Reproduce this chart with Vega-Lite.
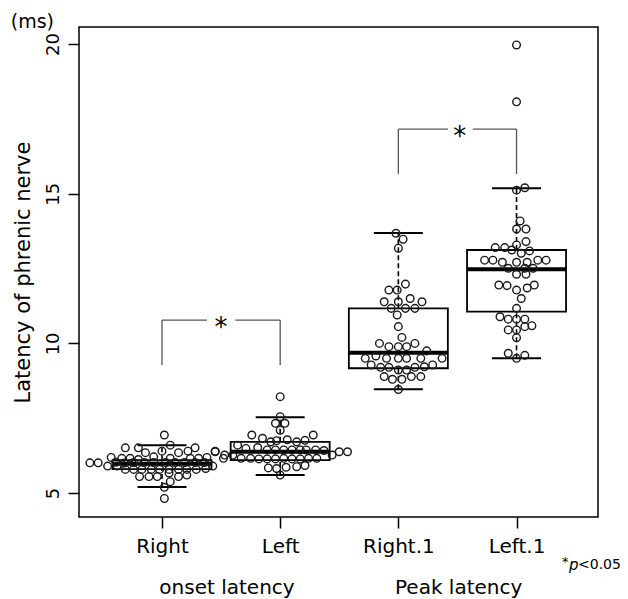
{
  "$schema": "https://vega.github.io/schema/vega-lite/v6.json",
  "width": 519,
  "height": 490,
  "autosize": {"type": "none"},
  "padding": {"left": 79, "top": 27, "right": 30, "bottom": 82},
  "background": "white",
  "config": {
    "view": {"stroke": "black", "strokeWidth": 1.5},
    "font": "DejaVu Sans",
    "axis": {"grid": false, "domain": false, "tickColor": "black", "tickWidth": 1.5, "tickSize": 11, "labelColor": "black", "titleColor": "black", "labelFont": "DejaVu Sans", "titleFont": "DejaVu Sans"}
  },
  "datasets": {
    "pts": [
      {"x": 1.02, "y": 6.94}, {"x": 0.69, "y": 6.51}, {"x": 0.80, "y": 6.51}, {"x": 1.07, "y": 6.60}, {"x": 1.00, "y": 6.40},
      {"x": 1.14, "y": 6.35}, {"x": 1.22, "y": 6.40}, {"x": 1.28, "y": 6.51}, {"x": 1.45, "y": 6.40}, {"x": 1.52, "y": 6.16},
      {"x": 0.86, "y": 6.35}, {"x": 0.93, "y": 6.21}, {"x": 0.57, "y": 6.19}, {"x": 0.66, "y": 6.16}, {"x": 0.73, "y": 6.16},
      {"x": 0.80, "y": 6.12}, {"x": 1.07, "y": 6.16}, {"x": 1.24, "y": 6.16}, {"x": 1.31, "y": 6.16}, {"x": 1.38, "y": 6.19},
      {"x": 0.39, "y": 6.01}, {"x": 0.46, "y": 6.01}, {"x": 0.54, "y": 5.90},
      {"x": 0.61, "y": 6.03}, {"x": 0.68, "y": 6.00}, {"x": 0.76, "y": 6.02}, {"x": 0.85, "y": 6.02}, {"x": 0.93, "y": 6.02},
      {"x": 1.03, "y": 6.02}, {"x": 1.11, "y": 6.02}, {"x": 1.19, "y": 6.02}, {"x": 1.28, "y": 6.02}, {"x": 1.36, "y": 6.02},
      {"x": 0.62, "y": 5.90}, {"x": 0.69, "y": 5.79}, {"x": 0.76, "y": 5.79}, {"x": 0.83, "y": 5.79}, {"x": 0.91, "y": 5.79},
      {"x": 0.98, "y": 5.79}, {"x": 1.06, "y": 5.79}, {"x": 1.14, "y": 5.79}, {"x": 1.21, "y": 5.79}, {"x": 1.29, "y": 5.79},
      {"x": 1.37, "y": 5.82}, {"x": 1.43, "y": 5.90},
      {"x": 0.81, "y": 5.55}, {"x": 0.89, "y": 5.55}, {"x": 0.96, "y": 5.55}, {"x": 1.06, "y": 5.67}, {"x": 1.14, "y": 5.55},
      {"x": 1.21, "y": 5.60}, {"x": 1.07, "y": 5.38}, {"x": 1.02, "y": 5.19}, {"x": 1.02, "y": 4.82},

      {"x": 2.00, "y": 8.22}, {"x": 2.00, "y": 7.55}, {"x": 1.96, "y": 7.33}, {"x": 2.04, "y": 7.33}, {"x": 2.00, "y": 7.10},
      {"x": 1.76, "y": 6.94}, {"x": 1.85, "y": 6.83}, {"x": 1.92, "y": 6.71}, {"x": 1.97, "y": 6.75}, {"x": 2.06, "y": 6.78},
      {"x": 2.14, "y": 6.71}, {"x": 2.21, "y": 6.76}, {"x": 2.28, "y": 6.94},
      {"x": 1.64, "y": 6.60}, {"x": 1.71, "y": 6.49}, {"x": 1.81, "y": 6.52}, {"x": 1.89, "y": 6.44}, {"x": 1.96, "y": 6.44},
      {"x": 2.03, "y": 6.44}, {"x": 2.10, "y": 6.44}, {"x": 2.17, "y": 6.44}, {"x": 2.22, "y": 6.44}, {"x": 2.30, "y": 6.44},
      {"x": 2.37, "y": 6.42},
      {"x": 1.45, "y": 6.38}, {"x": 1.53, "y": 6.27}, {"x": 1.60, "y": 6.27}, {"x": 2.44, "y": 6.27}, {"x": 2.50, "y": 6.38},
      {"x": 2.57, "y": 6.38},
      {"x": 1.67, "y": 6.16}, {"x": 1.75, "y": 6.16}, {"x": 1.82, "y": 6.14}, {"x": 1.89, "y": 6.14}, {"x": 1.96, "y": 6.14},
      {"x": 2.03, "y": 6.16}, {"x": 2.10, "y": 6.14}, {"x": 2.17, "y": 6.14}, {"x": 2.24, "y": 6.16}, {"x": 2.31, "y": 6.16},
      {"x": 1.90, "y": 5.84}, {"x": 1.97, "y": 5.82}, {"x": 2.05, "y": 5.86}, {"x": 2.14, "y": 5.88}, {"x": 2.21, "y": 5.92},
      {"x": 2.00, "y": 5.60},

      {"x": 2.98, "y": 13.68}, {"x": 3.04, "y": 13.48}, {"x": 3.00, "y": 13.18}, {"x": 3.06, "y": 11.98}, {"x": 2.92, "y": 11.78},
      {"x": 2.99, "y": 11.78}, {"x": 3.10, "y": 11.50}, {"x": 2.88, "y": 11.39}, {"x": 3.00, "y": 11.39}, {"x": 3.20, "y": 11.39},
      {"x": 2.94, "y": 11.17}, {"x": 3.06, "y": 11.17}, {"x": 3.14, "y": 11.17}, {"x": 2.99, "y": 10.95}, {"x": 3.00, "y": 10.56},
      {"x": 3.03, "y": 10.20}, {"x": 2.84, "y": 10.00}, {"x": 2.92, "y": 9.89}, {"x": 3.00, "y": 9.89}, {"x": 3.07, "y": 9.89},
      {"x": 3.14, "y": 10.00}, {"x": 3.24, "y": 9.75}, {"x": 2.72, "y": 9.50}, {"x": 2.81, "y": 9.58}, {"x": 2.90, "y": 9.50},
      {"x": 3.00, "y": 9.50}, {"x": 3.07, "y": 9.50}, {"x": 3.19, "y": 9.50}, {"x": 3.37, "y": 9.50}, {"x": 2.77, "y": 9.28},
      {"x": 2.85, "y": 9.20}, {"x": 2.92, "y": 9.20}, {"x": 3.00, "y": 9.11}, {"x": 3.07, "y": 9.11}, {"x": 3.14, "y": 9.20},
      {"x": 3.22, "y": 9.22}, {"x": 3.29, "y": 9.28}, {"x": 2.88, "y": 8.89}, {"x": 2.95, "y": 8.80}, {"x": 3.03, "y": 8.80},
      {"x": 3.11, "y": 8.89}, {"x": 3.19, "y": 8.89}, {"x": 3.00, "y": 8.46},

      {"x": 4.00, "y": 15.12}, {"x": 4.07, "y": 15.20}, {"x": 4.03, "y": 14.09}, {"x": 4.00, "y": 13.82}, {"x": 4.08, "y": 13.82},
      {"x": 4.00, "y": 13.29}, {"x": 4.08, "y": 13.40}, {"x": 3.82, "y": 13.20}, {"x": 3.90, "y": 13.20}, {"x": 3.96, "y": 13.12},
      {"x": 4.04, "y": 13.01}, {"x": 4.11, "y": 13.09}, {"x": 3.73, "y": 12.78}, {"x": 3.80, "y": 12.78}, {"x": 3.88, "y": 12.71},
      {"x": 4.00, "y": 12.71}, {"x": 4.09, "y": 12.71}, {"x": 4.18, "y": 12.78}, {"x": 4.25, "y": 12.78}, {"x": 3.93, "y": 12.51},
      {"x": 4.07, "y": 12.51}, {"x": 4.14, "y": 12.51}, {"x": 4.00, "y": 12.31}, {"x": 4.08, "y": 12.31}, {"x": 3.85, "y": 11.95},
      {"x": 3.92, "y": 11.93}, {"x": 4.00, "y": 11.78}, {"x": 4.09, "y": 11.85}, {"x": 4.15, "y": 11.95}, {"x": 4.04, "y": 11.50},
      {"x": 4.00, "y": 11.17}, {"x": 3.86, "y": 10.89}, {"x": 3.93, "y": 10.81}, {"x": 4.00, "y": 10.81}, {"x": 4.07, "y": 10.81},
      {"x": 4.13, "y": 10.59}, {"x": 3.93, "y": 10.45}, {"x": 4.00, "y": 10.45}, {"x": 4.07, "y": 10.56}, {"x": 4.00, "y": 10.19},
      {"x": 3.93, "y": 9.67}, {"x": 4.00, "y": 9.50}, {"x": 4.07, "y": 9.60}, {"x": 4.00, "y": 18.07}, {"x": 4.00, "y": 19.97}
    ],
    "boxes": [
      {"x": 1, "lower": 5.20, "q1": 5.80, "median": 5.98, "q3": 6.10, "upper": 6.60},
      {"x": 2, "lower": 5.60, "q1": 6.10, "median": 6.38, "q3": 6.71, "upper": 7.53},
      {"x": 3, "lower": 8.47, "q1": 9.17, "median": 9.69, "q3": 11.17, "upper": 13.69},
      {"x": 4, "lower": 9.50, "q1": 11.06, "median": 12.48, "q3": 13.12, "upper": 15.18}
    ],
    "hseg": [
      {"x": 1.0, "x2": 1.38, "y": 10.78}, {"x": 1.62, "x2": 2.0, "y": 10.78},
      {"x": 3.0, "x2": 3.42, "y": 17.16}, {"x": 3.63, "x2": 4.0, "y": 17.16}
    ],
    "vseg": [
      {"x": 1.0, "y": 9.28, "y2": 10.78}, {"x": 2.0, "y": 9.28, "y2": 10.78},
      {"x": 3.0, "y": 15.66, "y2": 17.16}, {"x": 4.0, "y": 15.66, "y2": 17.16}
    ],
    "stars": [{"x": 1.5, "y": 10.78, "t": "*"}, {"x": 3.52, "y": 17.16, "t": "*"}],
    "groups": [{"x": 1.55, "y": 1.83, "t": "onset latency"}, {"x": 3.51, "y": 1.83, "t": "Peak latency"}],
    "unit": [{"x": -0.28, "y": 20.75, "t": "(ms)"}],
    "pval": [{"x": 4.385, "y": 2.59}]
  },
  "layer": [
    {
      "data": {"name": "boxes"},
      "mark": {"type": "bar", "size": 99, "fill": "transparent", "stroke": "black", "strokeWidth": 1.8},
      "encoding": {
        "x": {"field": "x", "type": "quantitative", "scale": {"domain": [0.34, 4.647], "nice": false, "zero": false},
              "axis": {"values": [1, 2, 3, 4], "labelExpr": "['', 'Right', 'Left', 'Right.1', 'Left.1'][datum.value]", "title": null, "labelFontSize": 20, "labelPadding": 8, "labelFlush": false, "labelOverlap": false}},
        "y": {"field": "q1", "type": "quantitative", "scale": {"domain": [4.2, 20.57], "nice": false, "zero": false},
              "axis": {"values": [5, 10, 15, 20], "labelAngle": 270, "labelAlign": "center", "labelBaseline": "bottom", "labelFontSize": 18, "labelPadding": 6, "title": "Latency of phrenic nerve", "titleFontSize": 21, "titleFontWeight": "normal", "titlePadding": 11}},
        "y2": {"field": "q3"}
      }
    },
    {
      "data": {"name": "boxes"},
      "mark": {"type": "rule", "strokeDash": [5, 3], "strokeWidth": 1.6, "color": "black"},
      "encoding": {
        "x": {"field": "x", "type": "quantitative", "scale": {"domain": [0.34, 4.647], "nice": false, "zero": false}},
        "y": {"field": "q3", "type": "quantitative", "scale": {"domain": [4.2, 20.57], "nice": false, "zero": false}},
        "y2": {"field": "upper"}
      }
    },
    {
      "data": {"name": "boxes"},
      "mark": {"type": "rule", "strokeDash": [5, 3], "strokeWidth": 1.6, "color": "black"},
      "encoding": {
        "x": {"field": "x", "type": "quantitative", "scale": {"domain": [0.34, 4.647], "nice": false, "zero": false}},
        "y": {"field": "lower", "type": "quantitative", "scale": {"domain": [4.2, 20.57], "nice": false, "zero": false}},
        "y2": {"field": "q1"}
      }
    },
    {
      "data": {"name": "boxes"},
      "mark": {"type": "tick", "orient": "horizontal", "size": 49, "thickness": 2, "color": "black", "opacity": 1},
      "encoding": {
        "x": {"field": "x", "type": "quantitative", "scale": {"domain": [0.34, 4.647], "nice": false, "zero": false}},
        "y": {"field": "upper", "type": "quantitative", "scale": {"domain": [4.2, 20.57], "nice": false, "zero": false}}
      }
    },
    {
      "data": {"name": "boxes"},
      "mark": {"type": "tick", "orient": "horizontal", "size": 49, "thickness": 2, "color": "black", "opacity": 1},
      "encoding": {
        "x": {"field": "x", "type": "quantitative", "scale": {"domain": [0.34, 4.647], "nice": false, "zero": false}},
        "y": {"field": "lower", "type": "quantitative", "scale": {"domain": [4.2, 20.57], "nice": false, "zero": false}}
      }
    },
    {
      "data": {"name": "boxes"},
      "mark": {"type": "tick", "orient": "horizontal", "size": 99, "thickness": 4, "color": "black", "opacity": 1},
      "encoding": {
        "x": {"field": "x", "type": "quantitative", "scale": {"domain": [0.34, 4.647], "nice": false, "zero": false}},
        "y": {"field": "median", "type": "quantitative", "scale": {"domain": [4.2, 20.57], "nice": false, "zero": false}}
      }
    },
    {
      "data": {"name": "pts"},
      "mark": {"type": "point", "shape": "circle", "size": 58, "filled": false, "stroke": "#1a1a1a", "strokeWidth": 1.4, "opacity": 1},
      "encoding": {
        "x": {"field": "x", "type": "quantitative", "scale": {"domain": [0.34, 4.647], "nice": false, "zero": false}},
        "y": {"field": "y", "type": "quantitative", "scale": {"domain": [4.2, 20.57], "nice": false, "zero": false}}
      }
    },
    {
      "data": {"name": "hseg"},
      "mark": {"type": "rule", "color": "#555555", "strokeWidth": 1.3},
      "encoding": {
        "x": {"field": "x", "type": "quantitative", "scale": {"domain": [0.34, 4.647], "nice": false, "zero": false}},
        "x2": {"field": "x2"},
        "y": {"field": "y", "type": "quantitative", "scale": {"domain": [4.2, 20.57], "nice": false, "zero": false}}
      }
    },
    {
      "data": {"name": "vseg"},
      "mark": {"type": "rule", "color": "#555555", "strokeWidth": 1.3},
      "encoding": {
        "x": {"field": "x", "type": "quantitative", "scale": {"domain": [0.34, 4.647], "nice": false, "zero": false}},
        "y": {"field": "y", "type": "quantitative", "scale": {"domain": [4.2, 20.57], "nice": false, "zero": false}},
        "y2": {"field": "y2"}
      }
    },
    {
      "data": {"name": "stars"},
      "mark": {"type": "text", "fontSize": 26, "baseline": "alphabetic", "align": "center", "dy": 16, "color": "black"},
      "encoding": {
        "x": {"field": "x", "type": "quantitative", "scale": {"domain": [0.34, 4.647], "nice": false, "zero": false}},
        "y": {"field": "y", "type": "quantitative", "scale": {"domain": [4.2, 20.57], "nice": false, "zero": false}},
        "text": {"field": "t"}
      }
    },
    {
      "data": {"name": "groups"},
      "mark": {"type": "text", "fontSize": 20, "baseline": "middle", "align": "center", "color": "black", "clip": false},
      "encoding": {
        "x": {"field": "x", "type": "quantitative", "scale": {"domain": [0.34, 4.647], "nice": false, "zero": false}},
        "y": {"field": "y", "type": "quantitative", "scale": {"domain": [4.2, 20.57], "nice": false, "zero": false}},
        "text": {"field": "t"}
      }
    },
    {
      "data": {"name": "unit"},
      "mark": {"type": "text", "fontSize": 19, "baseline": "middle", "align": "left", "color": "black", "clip": false},
      "encoding": {
        "x": {"field": "x", "type": "quantitative", "scale": {"domain": [0.34, 4.647], "nice": false, "zero": false}},
        "y": {"field": "y", "type": "quantitative", "scale": {"domain": [4.2, 20.57], "nice": false, "zero": false}},
        "text": {"field": "t"}
      }
    },
    {
      "data": {"name": "pval"},
      "mark": {"type": "text", "fontSize": 13, "baseline": "middle", "align": "left", "dy": -3, "color": "black", "clip": false, "text": "*"},
      "encoding": {
        "x": {"field": "x", "type": "quantitative", "scale": {"domain": [0.34, 4.647], "nice": false, "zero": false}},
        "y": {"field": "y", "type": "quantitative", "scale": {"domain": [4.2, 20.57], "nice": false, "zero": false}}
      }
    },
    {
      "data": {"name": "pval"},
      "mark": {"type": "text", "fontSize": 15, "baseline": "middle", "align": "left", "dx": 7, "fontStyle": "italic", "color": "black", "clip": false, "text": "p"},
      "encoding": {
        "x": {"field": "x", "type": "quantitative", "scale": {"domain": [0.34, 4.647], "nice": false, "zero": false}},
        "y": {"field": "y", "type": "quantitative", "scale": {"domain": [4.2, 20.57], "nice": false, "zero": false}}
      }
    },
    {
      "data": {"name": "pval"},
      "mark": {"type": "text", "fontSize": 14, "baseline": "middle", "align": "left", "dx": 16, "color": "black", "clip": false, "text": "<0.05"},
      "encoding": {
        "x": {"field": "x", "type": "quantitative", "scale": {"domain": [0.34, 4.647], "nice": false, "zero": false}},
        "y": {"field": "y", "type": "quantitative", "scale": {"domain": [4.2, 20.57], "nice": false, "zero": false}}
      }
    }
  ]
}
